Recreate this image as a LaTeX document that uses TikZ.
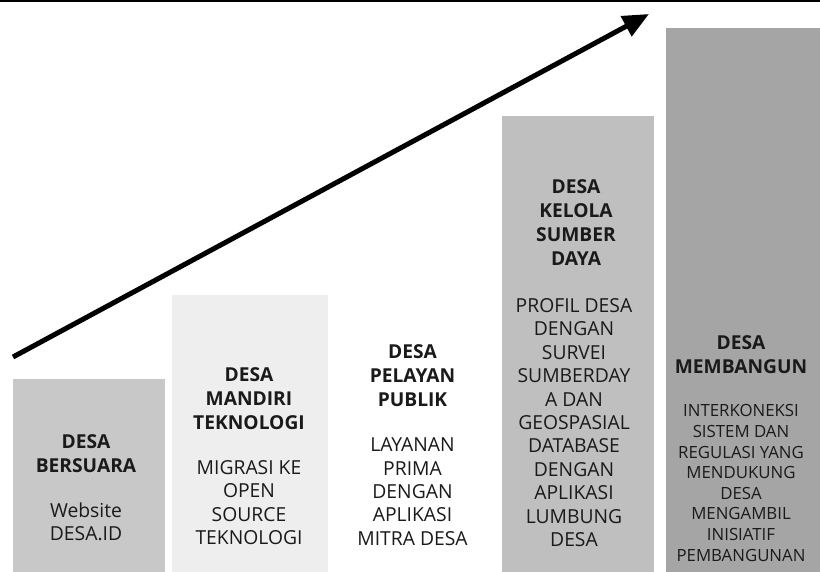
\documentclass[tikz,border=0pt]{standalone}
\usepackage{fontspec}
\setmainfont{Open Sans}
\usetikzlibrary{arrows.meta}
\definecolor{txt}{HTML}{1A1A1A}
\definecolor{cA}{HTML}{C8C8C8}
\definecolor{cB}{HTML}{EEEEEE}
\definecolor{cD}{HTML}{BFBFBF}
\definecolor{cE}{HTML}{A5A5A5}
\begin{document}
\begin{tikzpicture}[x=1pt,y=-1pt,
  bar/.style={draw=none, inner sep=0, anchor=north west},
  ttl/.style={font=\fontsize{19.2}{24}\selectfont\bfseries, align=center, text=txt, inner sep=0},
  bdy/.style={font=\fontsize{19.3}{23.4}\selectfont, align=center, text=txt, inner sep=0},
  sbdy/.style={font=\fontsize{16.8}{20.6}\selectfont, align=center, text=txt, inner sep=0}]
\useasboundingbox (0,0) rectangle (820,572);
% top rule
\coordinate (tl) at (0,1.2);
\coordinate (tr) at (820,1.2);
\draw[line width=2.5pt] (tl) -- (tr);
% bars
\node[bar, fill=cA, minimum width=152pt, minimum height=193pt] (b1) at (13,379) {};
\node[bar, fill=cB, minimum width=156pt, minimum height=277pt] (b2) at (172,295) {};
\node[bar, fill=white, minimum width=153pt, minimum height=277pt] (b3) at (337,295) {};
\node[bar, fill=cD, minimum width=152pt, minimum height=456pt] (b4) at (502,116) {};
\node[bar, fill=cE, minimum width=154pt, minimum height=544pt] (b5) at (666,28) {};
% texts
\node[ttl] (t1) at (86,453.5) {DESA\\BERSUARA};
\node[bdy] (d1) at (86,522) {Website\\DESA.ID};
\node[ttl] (t2) at (249,398.5) {DESA\\MANDIRI\\TEKNOLOGI};
\node[bdy] (d2) at (249,502.5) {MIGRASI KE\\OPEN\\SOURCE\\TEKNOLOGI};
\node[ttl] (t3) at (412.5,376) {DESA\\PELAYAN\\PUBLIK};
\node[bdy] (d3) at (412.5,491.6) {LAYANAN\\PRIMA\\DENGAN\\APLIKASI\\MITRA DESA};
\node[ttl] (t4) at (576,223) {DESA\\KELOLA\\SUMBER\\DAYA};
\node[bdy] (d4) at (574,422.5) {PROFIL DESA\\DENGAN\\SURVEI\\SUMBERDAY\\A DAN\\GEOSPASIAL\\DATABASE\\DENGAN\\APLIKASI\\LUMBUNG\\DESA};
\node[ttl] (t5) at (741,355) {DESA\\MEMBANGUN};
\node[sbdy] (d5) at (741,483) {INTERKONEKSI\\SISTEM DAN\\REGULASI YANG\\MENDUKUNG\\DESA\\MENGAMBIL\\INISIATIF\\PEMBANGUNAN};
% arrow
\coordinate (as) at (13,357);
\coordinate (ae) at (649,14);
\draw[line width=5pt, -{Triangle[length=26pt,width=22pt]}] (as) -- (ae);
\end{tikzpicture}
\end{document}
